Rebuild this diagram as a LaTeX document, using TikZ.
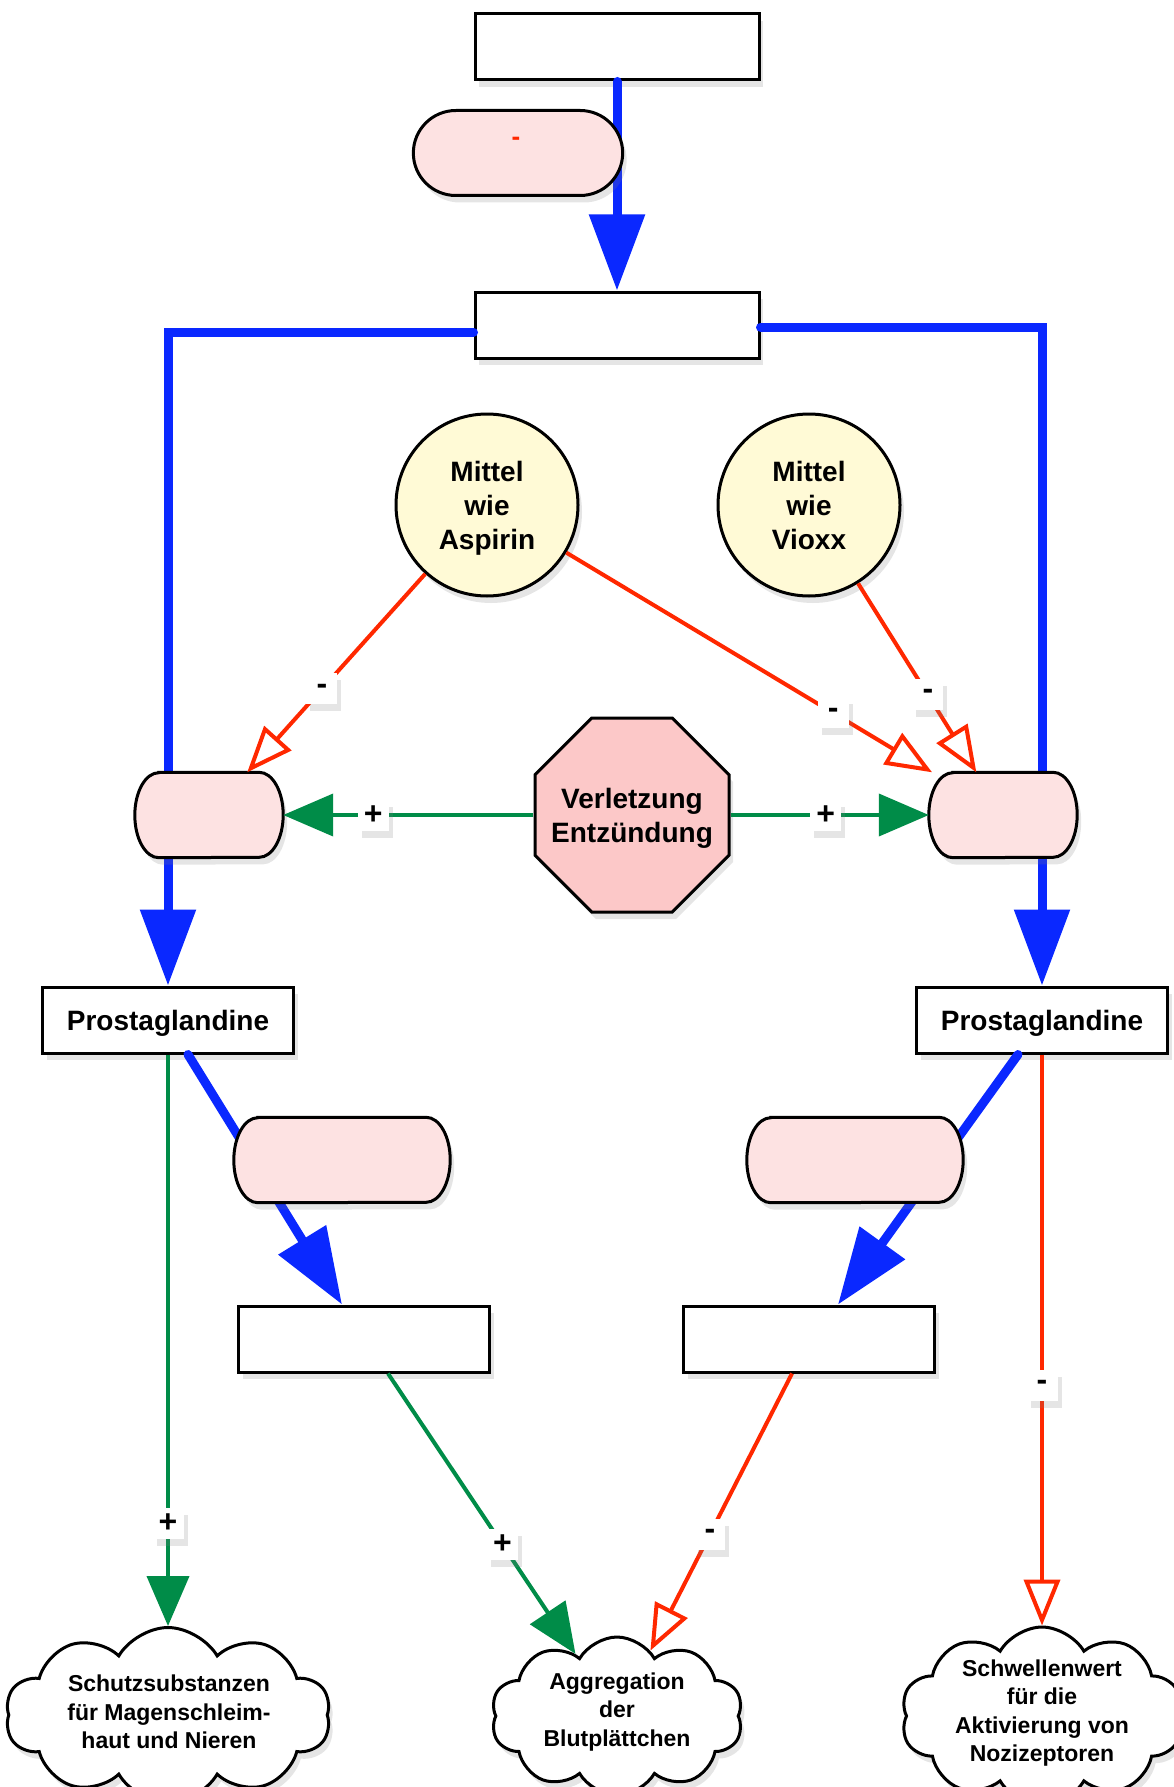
\documentclass[tikz,border=0pt]{standalone}
\usepackage{fontspec}
\setmainfont{Liberation Sans}
\usetikzlibrary{arrows.meta,shapes.geometric,shapes.misc,shapes.symbols,shadows}

\definecolor{flowblue}{RGB}{10,40,255}
\definecolor{flowgreen}{RGB}{0,140,72}
\definecolor{flowred}{RGB}{255,40,0}
\definecolor{enzpink}{RGB}{253,226,226}
\definecolor{injpink}{RGB}{252,200,200}
\definecolor{drugyellow}{RGB}{255,250,214}

% enzyme body with half-elliptic ends: name, x, y, width
\newcommand\enzymepill[4]{%
  \node[rectangle,minimum width=#4,minimum height=85pt,inner sep=0pt] (#1) at (#2,#3) {};
  \filldraw[line width=3pt,fill=enzpink,shadowed]
    ([xshift=24pt]#1.north west) -- ([xshift=-24pt]#1.north east)
    arc[start angle=90,end angle=-90,x radius=24pt,y radius=42.5pt]
    -- ([xshift=24pt]#1.south west)
    arc[start angle=270,end angle=90,x radius=24pt,y radius=42.5pt] -- cycle;
}

\begin{document}
\begin{tikzpicture}[x=1pt,y=-1pt,
    shadowed/.style={drop shadow={shadow xshift=4pt,shadow yshift=-7pt,opacity=.2}},
    box/.style={rectangle,draw,line width=3pt,fill=white,minimum width=284pt,minimum height=66pt,
      text depth=0pt,font=\bfseries\fontsize{28}{34}\selectfont,shadowed},
    pill/.style={rounded rectangle,draw,line width=3pt,fill=enzpink,minimum width=216pt,minimum height=85pt,shadowed},
    drug/.style={circle,draw,line width=3pt,fill=drugyellow,minimum size=182pt,inner sep=0pt,align=center,
      text depth=0pt,font=\bfseries\fontsize{28}{34}\selectfont,shadowed},
    effect/.style={cloud,cloud puffs=10,cloud puff arc=120,cloud ignores aspect,draw,line width=3pt,fill=white,shadowed},
    effecttext/.style={align=center,font=\bfseries\fontsize{23}{28.5}\selectfont},
    sign/.style={fill=white,minimum size=31pt,inner sep=0pt,font=\bfseries\fontsize{32}{32}\selectfont,shadowed},
    flow/.style={draw=flowblue,line width=9pt,line cap=round,-{Triangle[width=54pt,length=76pt]}},
    promo/.style={draw=flowgreen,line width=4pt,-{Triangle[width=42pt,length=50pt]}},
    inhib/.style={draw=flowred,line width=4pt,-{Triangle[open,width=36pt,length=46pt,fill=white]}}]
    \path[use as bounding box,fill=white] (0,0) rectangle (1173,1787);

    % boxes
    \node[box] (source) at (617,47) {};
    \node[box] (enzyme) at (617,325) {};
    \node[box,minimum width=251pt] (pglleft) at (168,1020) {Prostaglandine};
    \node[box,minimum width=251pt] (pglright) at (1042,1020) {Prostaglandine};
    \node[box,minimum width=251pt] (prodleft) at (364,1339) {};
    \node[box,minimum width=251pt] (prodright) at (809,1339) {};

    % main pathways
    \draw[flow] (source) -- (enzyme);
    \draw[flow] ([yshift=-7pt]enzyme.west) -| (pglleft);
    \draw[flow] ([yshift=-2pt]enzyme.east) -| (pglright);
    \draw[flow] ([xshift=20pt]pglleft.south) -- ([xshift=-22pt]prodleft.north);
    \draw[flow] ([xshift=-24pt]pglright.south) -- ([xshift=29pt]prodright.north);

    % enzymes on top of the pathways
    \node[pill] (enztop) at (518,153) {};
    \node[text=flowred,font=\bfseries\fontsize{26}{26}\selectfont] (enzdash) at (516,141) {-};
    \enzymepill{coxone}{209}{815}{148pt}
    \enzymepill{coxtwo}{1003}{815}{148pt}
    \enzymepill{synleft}{342}{1160}{216pt}
    \enzymepill{synright}{855}{1160}{216pt}

    % drugs and trigger
    \node[drug] (aspirin) at (487,505) {Mittel\\wie\\Aspirin};
    \node[drug] (vioxx) at (809,505) {Mittel\\wie\\Vioxx};
    \node[regular polygon,regular polygon sides=8,draw,line width=3pt,fill=injpink,minimum size=210pt,
      inner sep=0pt,shadowed] (injury) at (632,815) {};
    \node[align=center,text depth=0pt,font=\bfseries\fontsize{28}{34}\selectfont] (injurytext) at (injury)
      {Verletzung\\Entzündung};

    % effects
    \node[effect,minimum width=325pt,minimum height=175pt] (protect) at (168,1715) {};
    \node[effecttext] (protecttext) at (169,1712) {Schutzsubstanzen\\für Magenschleim-\\haut und Nieren};
    \node[effect,minimum width=252pt,minimum height=158pt] (platelet) at (617,1716) {};
    \node[effecttext] (platelettext) at (617,1712) {Aggregation\\der\\Blutplättchen};
    \node[effect,minimum width=282pt,minimum height=178pt] (pain) at (1042,1716) {};
    \node[effecttext] (paintext) at (1042,1713) {Schwellenwert\\für die\\Aktivierung von\\Nozizeptoren};

    % inhibition and promotion
    \draw[inhib] (aspirin) -- node[sign,pos=.58] {-} (coxone);
    \draw[inhib] (aspirin) -- node[sign,pos=.73] {-} (coxtwo);
    \draw[inhib] (vioxx) -- node[sign,pos=.59] {-} (coxtwo);
    \draw[promo] (injury) -- node[sign,pos=.64] {+} (coxone);
    \draw[promo] (injury) -- node[sign,pos=.48] {+} (coxtwo);
    \draw[promo] (pglleft) -- node[sign,pos=.82] {+} (protect);
    \draw[promo] ([xshift=24pt]prodleft.south) -- node[sign,pos=.61] {+} (platelet);
    \draw[inhib] ([xshift=-17pt]prodright.south) -- node[sign,pos=.58] {-} (platelet);
    \draw[inhib] (pglright) -- node[sign,pos=.58] {-} (pain);
\end{tikzpicture}
\end{document}
